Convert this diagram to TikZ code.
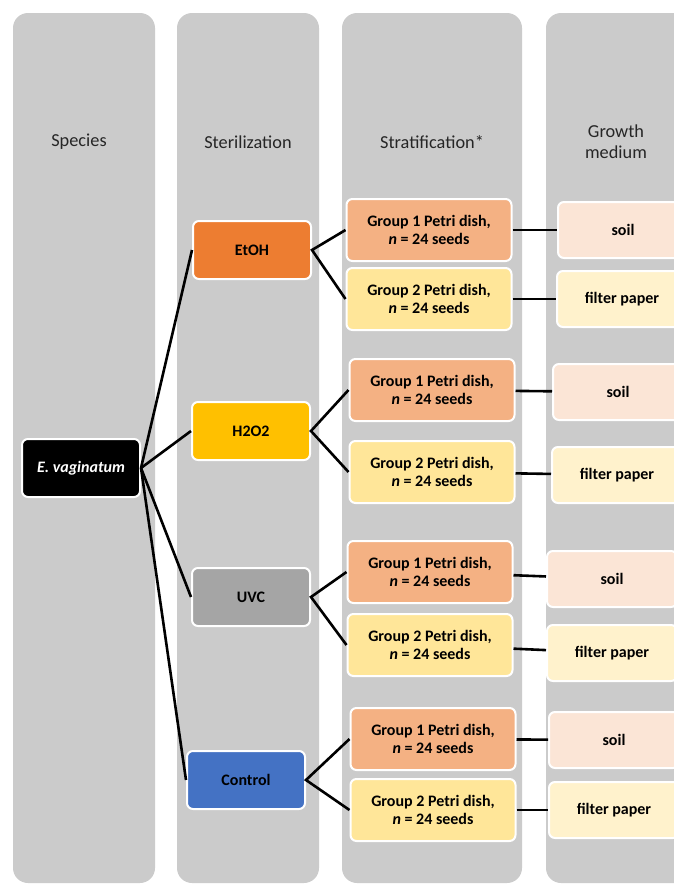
\documentclass[tikz,border=0pt]{standalone}
\usepackage{fontspec}
\setmainfont{Carlito}
\usetikzlibrary{positioning}
\definecolor{colorlane}{RGB}{203, 203, 203}
\definecolor{coloretoh}{RGB}{237, 125, 49}
\definecolor{colorhtwo}{RGB}{255, 192, 0}
\definecolor{coloruvc}{RGB}{165, 165, 165}
\definecolor{colorctrl}{RGB}{68, 114, 196}
\definecolor{colordishA}{RGB}{244, 177, 131}
\definecolor{colordishB}{RGB}{255, 230, 153}
\definecolor{colorsoil}{RGB}{251, 229, 214}
\definecolor{colorpaper}{RGB}{255, 242, 204}
\definecolor{colortext}{RGB}{38, 38, 38}
\tikzstyle{lane} = [fill=colorlane, rounded corners=15pt]
\tikzstyle{header} = [align=center, text=colortext, font=\fontsize{18.3}{21}\selectfont]
\tikzstyle{box} = [rectangle, rounded corners=6pt, draw=white, line width=2pt, align=center, text=black, font=\fontsize{16}{17.5}\selectfont\bfseries]
\tikzstyle{species} = [box, minimum width=118pt, minimum height=58pt, fill=black, text=white, font=\fontsize{16}{17.5}\selectfont\bfseries\itshape]
\tikzstyle{treatment} = [box, minimum width=118pt, minimum height=58pt]
\tikzstyle{dish} = [box, minimum width=165pt, minimum height=62pt]
\tikzstyle{medium} = [box, minimum width=130pt, minimum height=56pt]
\tikzstyle{link} = [line width=2.6pt, black]

\begin{document}
\begin{tikzpicture}[x=1pt, y=-1pt]

\useasboundingbox (0,0) rectangle (674,886);
\clip (0,0) rectangle (674,886);

% Lanes
\fill [lane] (13,13) rectangle (155,883);
\fill [lane] (177,13) rectangle (319,883);
\fill [lane] (342,13) rectangle (522,883);
\fill [lane] (546,13) rectangle (710,883);

\node (hspecies) [header] at (79,142) {Species};
\node (hsteril) [header] at (248,142) {Sterilization};
\node (hstrat) [header] at (432,142) {Stratification*};
\node (hgrowth) [header] at (616,142) {Growth\\medium};

% Nodes
\node (species) [species] at (81,468) {E. vaginatum};
\node (etoh) [treatment, fill=coloretoh] at (252,250) {EtOH};
\node (htwo) [treatment, fill=colorhtwo] at (251,431) {H2O2};
\node (uvc) [treatment, fill=coloruvc] at (251,597) {UVC};
\node (ctrl) [treatment, fill=colorctrl] at (246,780) {Control};

\node (etohA) [dish, fill=colordishA] at (429,230) {Group 1 Petri dish,\\\textit{n} = 24 seeds};
\node (etohB) [dish, fill=colordishB] at (429,299) {Group 2 Petri dish,\\\textit{n} = 24 seeds};
\node (htwoA) [dish, fill=colordishA] at (432,390) {Group 1 Petri dish,\\\textit{n} = 24 seeds};
\node (htwoB) [dish, fill=colordishB] at (432,472) {Group 2 Petri dish,\\\textit{n} = 24 seeds};
\node (uvcA) [dish, fill=colordishA] at (430,572) {Group 1 Petri dish,\\\textit{n} = 24 seeds};
\node (uvcB) [dish, fill=colordishB] at (430,645) {Group 2 Petri dish,\\\textit{n} = 24 seeds};
\node (ctrlA) [dish, fill=colordishA] at (433,739) {Group 1 Petri dish,\\\textit{n} = 24 seeds};
\node (ctrlB) [dish, fill=colordishB] at (433,810) {Group 2 Petri dish,\\\textit{n} = 24 seeds};

\node (etohsoil) [medium, fill=colorsoil] at (623,230) {soil};
\node (etohpaper) [medium, fill=colorpaper] at (622,299) {filter paper};
\node (htwosoil) [medium, fill=colorsoil] at (618,392) {soil};
\node (htwopaper) [medium, fill=colorpaper] at (617,475) {filter paper};
\node (uvcsoil) [medium, fill=colorsoil] at (612,579) {soil};
\node (uvcpaper) [medium, fill=colorpaper] at (612,653) {filter paper};
\node (ctrlsoil) [medium, fill=colorsoil] at (614,740) {soil};
\node (ctrlpaper) [medium, fill=colorpaper] at (614,810) {filter paper};

% Links species -> sterilization
\draw [link] (species.east) -- (etoh.west);
\draw [link] (species.east) -- (htwo.west);
\draw [link] (species.east) -- (uvc.west);
\draw [link] (species.east) -- (ctrl.west);

% Links sterilization -> stratification
\draw [link] (etohA.west) -- (etoh.east) -- (etohB.west);
\draw [link] (htwoA.west) -- (htwo.east) -- (htwoB.west);
\draw [link] (uvcA.west) -- (uvc.east) -- (uvcB.west);
\draw [link] (ctrlA.west) -- (ctrl.east) -- (ctrlB.west);

% Links stratification -> growth medium
\draw [link] (etohA) -- (etohsoil);
\draw [link] (etohB) -- (etohpaper);
\draw [link] (htwoA) -- (htwosoil);
\draw [link] (htwoB) -- (htwopaper);
\draw [link] (uvcA) -- (uvcsoil);
\draw [link] (uvcB) -- (uvcpaper);
\draw [link] (ctrlA) -- (ctrlsoil);
\draw [link] (ctrlB) -- (ctrlpaper);

\end{tikzpicture}
\end{document}
